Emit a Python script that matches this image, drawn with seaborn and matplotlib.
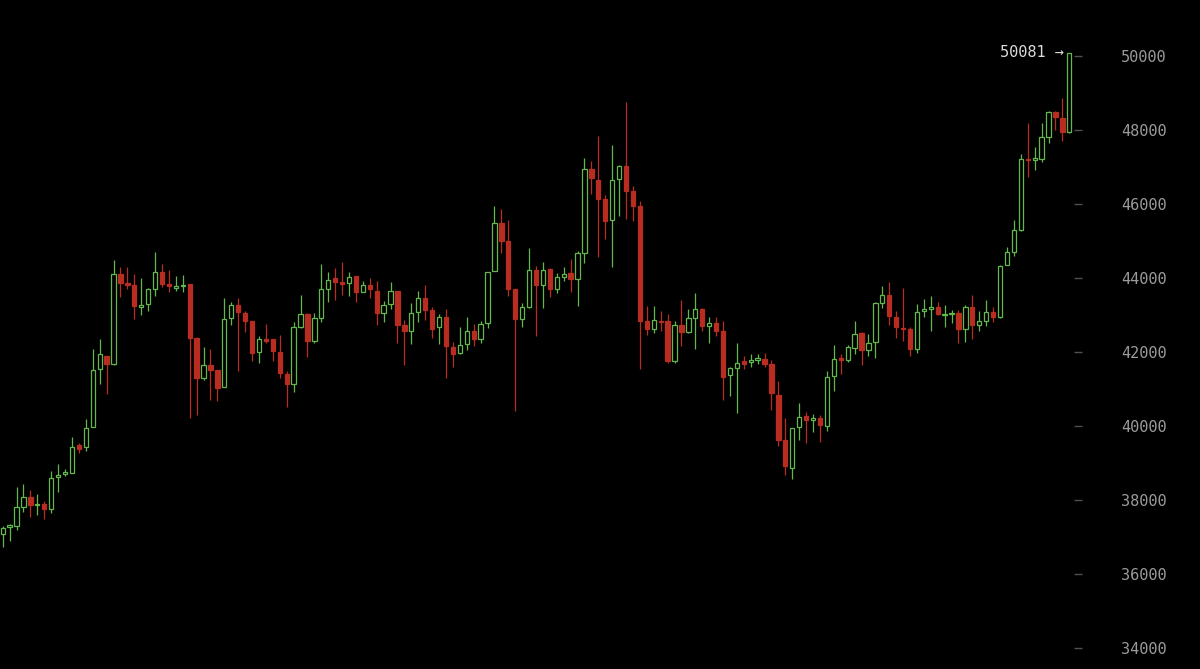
import numpy as np
import pandas as pd
import matplotlib
matplotlib.use("Agg")
import matplotlib.pyplot as plt
import seaborn as sns

# daily candles
opens = [37086, 37267, 37310, 37823, 38085, 37861, 37896, 37753, 38617, 38698,
         38725, 39489, 39443, 39967, 41541, 41892, 41676, 44098, 43855, 43801,
         43223, 43296, 43701, 44168, 43844, 43736, 43774, 43844, 42386, 41306,
         41641, 41522, 41055, 42926, 43277, 43061, 42837, 41992, 42351, 42351,
         42000, 41414, 41128, 42675, 43026, 42305, 42910, 43701, 43990, 43882,
         43855, 44060, 43620, 43801, 43647, 43061, 43288, 43647, 42721, 42575,
         43088, 43466, 43134, 42683, 42937, 42127, 41965, 42208, 42567, 42359,
         42775, 44195, 45475, 44997, 43693, 42883, 43207, 44214, 43817, 44233,
         43701, 44033, 44141, 43971, 44673, 46933, 46636, 46131, 45572, 46663,
         47014, 46339, 45942, 42829, 42613, 42837, 42829, 41749, 42721, 42540,
         42918, 43161, 42694, 42783, 42567, 41379, 41568, 41757, 41730, 41792,
         41819, 41676, 40847, 39616, 38876, 39967, 40264, 40156, 40218, 40002,
         41344, 41830, 41784, 42116, 42505, 42054, 42278, 43331, 43539, 42945,
         42640, 42613, 42089, 43107, 43169, 43207, 42999, 43026, 43061, 42613,
         43207, 42729, 42837, 43088, 42953, 44341, 44708, 45294, 47219, 47192,
         47219, 47813, 48488, 48318, 47948]
highs = [37302, 37348, 38347, 38428, 38274, 38166, 37977, 38795, 38984, 38833,
         39697, 39551, 40183, 42081, 42343, 41892, 44484, 44287, 44287, 44106,
         43990, 43720, 44692, 44368, 44214, 44060, 44071, 43844, 42413, 42127,
         42081, 41522, 43466, 43350, 43466, 43115, 42837, 42424, 42756, 42351,
         42459, 41487, 42802, 43539, 43045, 43045, 44368, 44168, 44260, 44430,
         44168, 44060, 43909, 43990, 43917, 43385, 43882, 43647, 42864, 43323,
         43647, 43801, 43207, 43018, 43161, 42270, 42667, 42937, 42756, 42837,
         44168, 45942, 45861, 45564, 43693, 43315, 44816, 44322, 44438, 44260,
         44141, 44287, 44511, 44735, 47238, 47165, 47832, 46231, 47581, 47057,
         48742, 46490, 46077, 43242, 43242, 43099, 43026, 42829, 43404, 43169,
         43585, 43196, 42945, 42945, 42837, 41603, 42235, 41892, 41938, 41946,
         41973, 41784, 41217, 40210, 39948, 40623, 40372, 40318, 40291, 41487,
         42197, 41946, 42189, 42837, 42532, 42486, 43358, 43782, 43882, 43099,
         43728, 42683, 43288, 43431, 43512, 43350, 43277, 43134, 43134, 43269,
         43547, 43107, 43404, 43215, 44357, 44843, 45556, 47346, 48175, 47543,
         48175, 48515, 48515, 48850, 50081]
lows = [36743, 36897, 37194, 37680, 37553, 37599, 37491, 37645, 38228, 38652,
        38725, 39281, 39335, 39967, 41128, 40866, 41641, 43477, 43693, 42883,
        42991, 43107, 43512, 43763, 43628, 43655, 43628, 40226, 40299, 41244,
        40712, 40669, 41055, 42721, 41495, 42548, 41757, 41711, 42235, 41757,
        41306, 40523, 40928, 42656, 41873, 42251, 42802, 43358, 43404, 43547,
        43520, 43358, 43620, 43466, 42729, 42802, 43169, 42243, 41641, 42208,
        42802, 42872, 42386, 42208, 41306, 41603, 41938, 42054, 42170, 42235,
        42656, 44195, 44665, 43520, 40415, 42683, 43180, 42424, 43180, 43477,
        43585, 43925, 43628, 43250, 44411, 46274, 44557, 45043, 44295, 45680,
        45599, 45529, 41533, 42467, 42505, 42575, 41711, 41711, 42170, 42505,
        42089, 42575, 42235, 42432, 40704, 40812, 40361, 41533, 41587, 41684,
        41587, 40434, 39470, 38679, 38571, 39624, 39543, 39840, 39578, 39875,
        40939, 41414, 41738, 41946, 41649, 41900, 41830, 43180, 42729, 42386,
        42305, 41900, 41981, 42953, 42575, 42991, 42675, 42775, 42251, 42278,
        42351, 42575, 42702, 42802, 42918, 44341, 44592, 45259, 46733, 46914,
        47138, 47635, 47994, 47697, 47920]
closes = [37256, 37321, 37807, 38077, 37861, 37896, 37753, 38606, 38679, 38768,
          39427, 39381, 39940, 41514, 41938, 41676, 44098, 43855, 43817, 43250,
          43277, 43693, 44168, 43836, 43774, 43774, 43809, 42386, 41306, 41641,
          41514, 41036, 42899, 43277, 43072, 42845, 41981, 42351, 42305, 42019,
          41425, 41128, 42667, 43018, 42305, 42910, 43693, 43944, 43890, 43844,
          44017, 43620, 43801, 43693, 43061, 43269, 43647, 42721, 42575, 43053,
          43466, 43134, 42613, 42937, 42162, 41938, 42181, 42567, 42351, 42756,
          44168, 45475, 45005, 43701, 42883, 43207, 44214, 43817, 44214, 43701,
          44017, 44098, 43963, 44665, 46933, 46690, 46131, 45537, 46636, 47022,
          46355, 45942, 42845, 42613, 42864, 42802, 41749, 42721, 42548, 42910,
          43161, 42694, 42783, 42575, 41333, 41568, 41703, 41684, 41784, 41830,
          41676, 40901, 39624, 38922, 39948, 40253, 40156, 40218, 40037, 41333,
          41811, 41792, 42127, 42494, 42054, 42235, 43323, 43539, 42980, 42683,
          42613, 42089, 43088, 43161, 43207, 43018, 43034, 43061, 42613, 43207,
          42729, 42837, 43088, 42953, 44330, 44692, 45294, 47203, 47184, 47238,
          47797, 48480, 48337, 47948, 50081]
y_ticks = [34000, 36000, 38000, 40000, 42000, 44000, 46000, 48000, 50000]
last_price = 50081

UP = "#62b84c"
DOWN = "#b82c22"

sns.set_theme(style="dark", rc={"axes.facecolor": "black",
                                "figure.facecolor": "black",
                                "savefig.facecolor": "black"})
plt.rcParams["font.family"] = ["DejaVu Sans Mono", "DejaVu Sans"]

df = pd.DataFrame({"open": opens, "high": highs, "low": lows, "close": closes})
df["idx"] = np.arange(len(df))
df["up"] = df["close"] >= df["open"]
df["bottom"] = df[["open", "close"]].min(axis=1)
df["height"] = (df["close"] - df["open"]).abs()

fig = plt.figure(figsize=(12, 6.69), dpi=100)
ax = fig.add_axes([0, 0, 1074 / 1200, 1])

# wicks
ax.vlines(df["idx"], df["low"], df["high"],
          colors=np.where(df["up"], UP, DOWN), linewidth=0.9, zorder=1)

# bodies: hollow green for up days, filled red for down days
up = df[df["up"]]
dn = df[~df["up"]]
ax.bar(up["idx"], up["height"], bottom=up["bottom"], width=0.62,
       facecolor="black", edgecolor=UP, linewidth=0.9, zorder=2)
ax.bar(dn["idx"], dn["height"], bottom=dn["bottom"], width=0.62,
       facecolor=DOWN, edgecolor=DOWN, linewidth=0.9, zorder=2)

ax.text(len(df) - 1.77, last_price, f"{last_price} \u2192", ha="right", va="center",
        color="#dcdcdc", fontsize=11)

ax.set_xlim(-0.39, 154.68)
ax.set_ylim(33441, 51504)
ax.yaxis.tick_right()
ax.set_yticks(y_ticks)
ax.set_xticks([])
ax.tick_params(axis="y", direction="out", length=5.8, width=1, color="#505050",
               labelcolor="#9b9b9b", labelsize=11, pad=28, right=True, left=False)
ax.grid(False)
for s in ax.spines.values():
    s.set_visible(False)
ax.set_xlabel("")
ax.set_ylabel("")

fig.savefig("out.png", dpi=100, facecolor="black")
